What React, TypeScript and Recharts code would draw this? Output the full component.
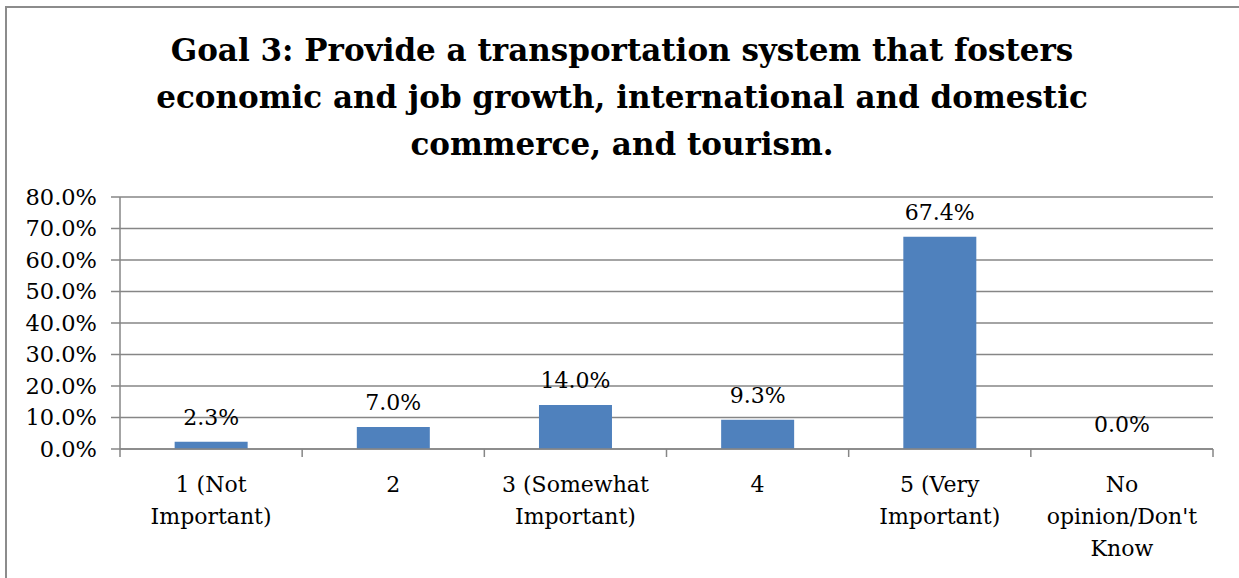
import React from "react";
import { BarChart, Bar, XAxis, YAxis, CartesianGrid, LabelList, Rectangle } from "recharts";

const categories = ["1 (Not\nImportant)", "2", "3 (Somewhat\nImportant)", "4", "5 (Very\nImportant)", "No\nopinion/Don't\nKnow"];
const values = [2.3, 7.0, 14.0, 9.3, 67.4, 0.0];
const yTicks = [0, 10, 20, 30, 40, 50, 60, 70, 80];
const titleLines = [
  "Goal 3: Provide a transportation system that fosters",
  "economic and job growth, international and domestic",
  "commerce, and tourism.",
];

const data = categories.map((c, i) => ({ name: c, value: values[i] }));

const FONT = "'DejaVu Serif', 'Liberation Serif', serif";
const AXIS = "#868686";
const TICK_SIZE = 8;
const TICK_MARGIN = 19;

const XTick = (props: any) => {
  const { x, y, payload, index, width, visibleTicksCount } = props;
  const bw = width / (visibleTicksCount || categories.length);
  const axisY = y - TICK_SIZE - TICK_MARGIN;
  const lines = String(payload.value).split("\n");
  return (
    <g>
      <line x1={x - bw / 2} x2={x - bw / 2} y1={axisY} y2={axisY + TICK_SIZE} stroke={AXIS} strokeWidth={1.5} />
      {index === categories.length - 1 && (
        <line x1={x + bw / 2} x2={x + bw / 2} y1={axisY} y2={axisY + TICK_SIZE} stroke={AXIS} strokeWidth={1.5} />
      )}
      <text x={x} y={y + 16} textAnchor="middle" style={{ fontFamily: FONT, fontSize: 22, fill: "#000" }}>
        {lines.map((l, i) => (
          <tspan key={i} x={x} dy={i === 0 ? 0 : 32}>
            {l}
          </tspan>
        ))}
      </text>
    </g>
  );
};

const ValueLabel = (props: any) => {
  const { x, y, width, height, value } = props;
  const top = height < 0 ? y + height : y;
  return (
    <text
      x={Number(x) + Number(width) / 2}
      y={top - 17}
      textAnchor="middle"
      style={{ fontFamily: FONT, fontSize: 22, fill: "#000" }}
    >
      {Number(value).toFixed(1) + "%"}
    </text>
  );
};

const BarShape = (props: any) => {
  if (!props.value) return <g />;
  return <Rectangle {...props} />;
};

export default function App() {
  return (
    <div style={{ position: "fixed", left: 0, top: 0, width: 1239, height: 578, overflow: "hidden", background: "#fff" }}>
      <div
        style={{
          position: "absolute",
          left: 5,
          top: 6,
          width: 1400,
          height: 700,
          borderTop: "2px solid #8c8c8c",
          borderLeft: "2px solid #8c8c8c",
        }}
      />
      <div
        style={{
          position: "absolute",
          left: 0,
          top: 27,
          width: 1244,
          textAlign: "center",
          fontFamily: FONT,
          fontWeight: "bold",
          fontSize: 31,
          lineHeight: "47px",
          color: "#000",
        }}
      >
        {titleLines.map((l, i) => (
          <div key={i}>{l}</div>
        ))}
      </div>
      <div style={{ position: "absolute", left: 0, top: 0 }}>
        <BarChart
          width={1239}
          height={578}
          data={data}
          margin={{ top: 197, right: 26, bottom: 0, left: 0 }}
          barCategoryGap="30%"
        >
          <CartesianGrid vertical={false} stroke={AXIS} strokeWidth={1.5} />
          <YAxis
            width={120}
            domain={[0, 80]}
            ticks={yTicks}
            interval={0}
            tickFormatter={(v: number) => v.toFixed(1) + "%"}
            tickSize={9}
            tickMargin={14}
            stroke={AXIS}
            strokeWidth={1.5}
            tick={{ fontFamily: FONT, fontSize: 22.5, fill: "#000" }}
          />
          <XAxis
            dataKey="name"
            height={129}
            interval={0}
            tickLine={false}
            tickSize={TICK_SIZE}
            tickMargin={TICK_MARGIN}
            stroke={AXIS}
            strokeWidth={1.5}
            tick={<XTick />}
          />
          <Bar dataKey="value" fill="#4F81BD" isAnimationActive={false} minPointSize={0.01} shape={<BarShape />}>
            <LabelList dataKey="value" content={<ValueLabel />} />
          </Bar>
        </BarChart>
      </div>
    </div>
  );
}
